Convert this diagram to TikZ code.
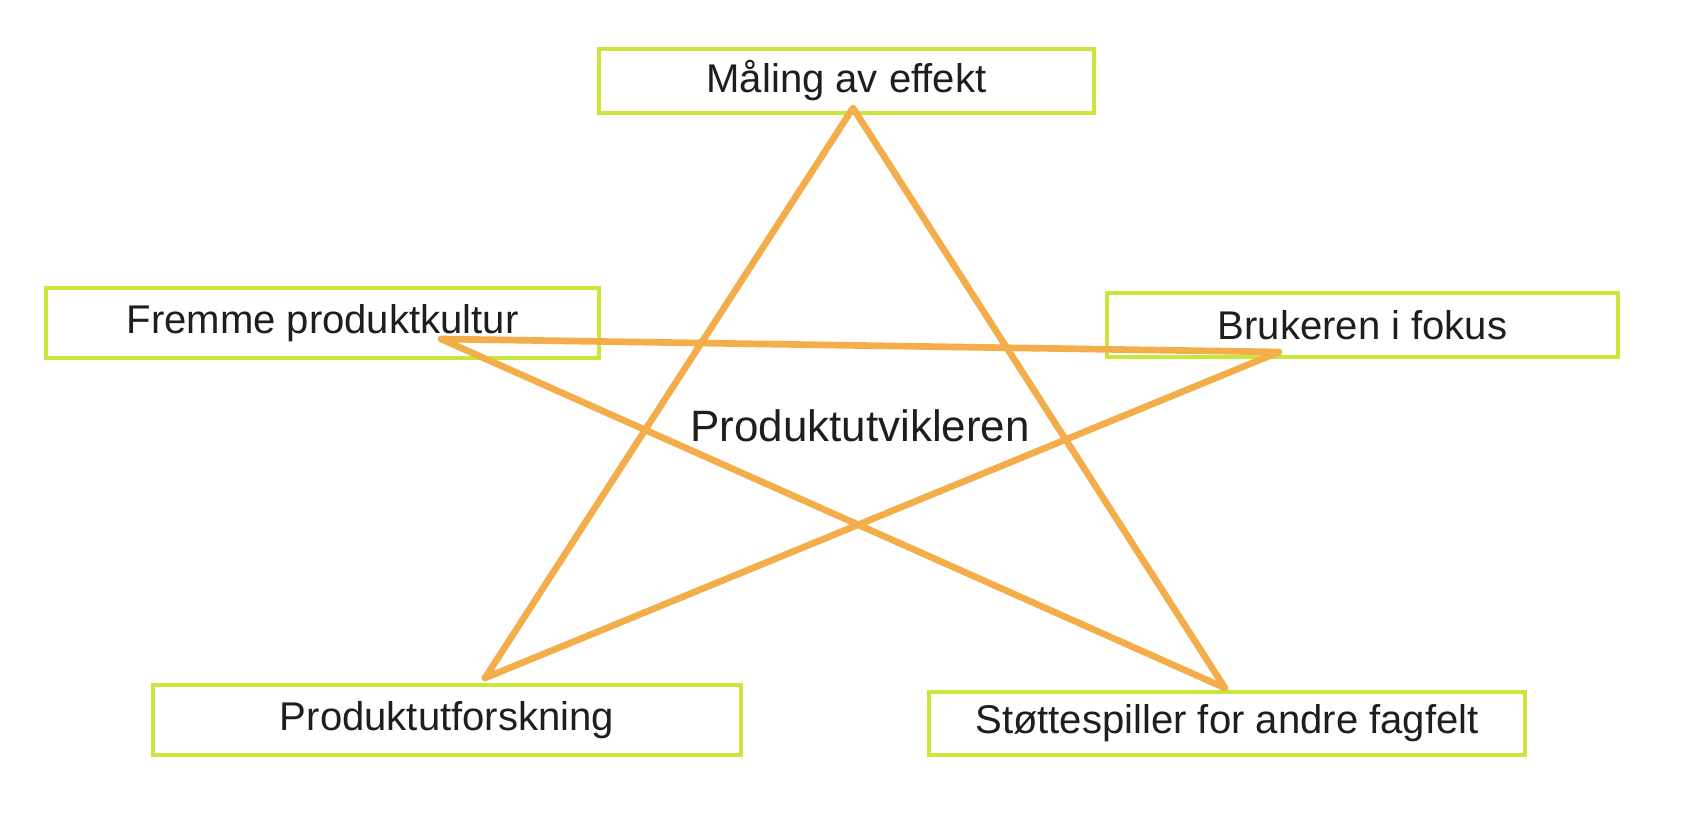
\documentclass[tikz,border=0pt]{standalone}
\usepackage{fontspec}
\setmainfont{Liberation Sans}
\definecolor{limeline}{HTML}{C6E83A}
\definecolor{starline}{HTML}{F3AE4B}
\definecolor{labeltext}{HTML}{1E1E1E}
\tikzset{
  rolebox/.style={draw=limeline, line width=1.8pt, fill=white, inner sep=0pt,
    text=labeltext, font=\fontsize{22.8}{27}\selectfont},
  pentagram/.style={draw=starline, line width=3.8pt, line join=round, line cap=round}
}
\begin{document}
\begin{tikzpicture}
  \useasboundingbox (0,0) rectangle (34,16.24);
  % the five roles
  \node[rolebox, minimum width=9.9cm, minimum height=1.28cm] (maaling) at (16.93,14.62) {Måling av effekt};
  \node[rolebox, minimum width=11.06cm, minimum height=1.4cm] (kultur) at (6.45,9.78) {Fremme produktkultur};
  \node[rolebox, minimum width=10.22cm, minimum height=1.28cm] (bruker) at (27.25,9.74) {Brukeren i fokus};
  \node[rolebox, minimum width=11.76cm, minimum height=1.4cm] (forskning) at (8.94,1.84) {Produktutforskning};
  \node[rolebox, minimum width=11.92cm, minimum height=1.26cm] (stotte) at (24.54,1.77) {Støttespiller for andre fagfelt};
  % star points
  \coordinate (top) at (17.06,14.08);
  \coordinate (left) at (8.82,9.46);
  \coordinate (right) at (25.58,9.2);
  \coordinate (botleft) at (9.70,2.68);
  \coordinate (botright) at (24.50,2.48);
  \draw[pentagram] (top) -- (botleft) -- (right) -- (left) -- (botright) -- cycle;
  \node[text=labeltext, font=\fontsize{25}{30}\selectfont] (rolle) at (17.2,7.72) {Produktutvikleren};
\end{tikzpicture}
\end{document}
